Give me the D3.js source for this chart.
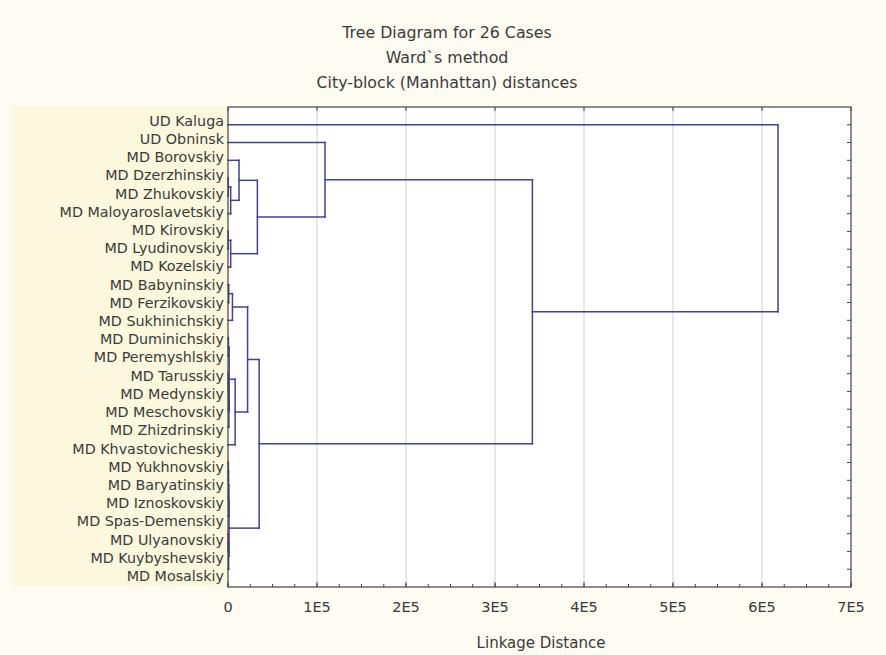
<!DOCTYPE html>
<html>
<head>
<meta charset="utf-8">
<script src="https://cdn.jsdelivr.net/npm/d3@7"></script>
<style>
html,body{margin:0;padding:0;background:#fdfbf2;}
svg{display:block;}
text{font-family:"DejaVu Sans",Verdana,sans-serif;fill:#3a3a3a;}
</style>
</head>
<body>
<svg id="chart" width="886" height="655"></svg>
<script>
// ---- data ----
const titleLines = ["Tree Diagram for 26 Cases", "Ward`s method", "City-block (Manhattan) distances"];
const xTitle = "Linkage Distance";
const cases = [
  "UD Kaluga","UD Obninsk","MD Borovskiy","MD Dzerzhinskiy","MD Zhukovskiy",
  "MD Maloyaroslavetskiy","MD Kirovskiy","MD Lyudinovskiy","MD Kozelskiy",
  "MD Babyninskiy","MD Ferzikovskiy","MD Sukhinichskiy","MD Duminichskiy",
  "MD Peremyshlskiy","MD Tarusskiy","MD Medynskiy","MD Meschovskiy",
  "MD Zhizdrinskiy","MD Khvastovicheskiy","MD Yukhnovskiy","MD Baryatinskiy",
  "MD Iznoskovskiy","MD Spas-Demenskiy","MD Ulyanovskiy","MD Kuybyshevskiy",
  "MD Mosalskiy"
];
// linkage: [childA, childB, height]; leaves 0..25, merge k gets index 26+k
const linkage = [
  [3, 4, 300],
  [26, 5, 3000],
  [2, 27, 12400],
  [6, 7, 300],
  [29, 8, 3000],
  [28, 30, 33000],
  [1, 31, 109000],
  [9, 10, 800],
  [33, 11, 5000],
  [12, 13, 500],
  [14, 15, 300],
  [36, 16, 700],
  [37, 17, 1000],
  [35, 38, 1300],
  [39, 18, 8000],
  [34, 40, 22000],
  [19, 20, 400],
  [42, 21, 600],
  [43, 22, 900],
  [23, 24, 300],
  [45, 25, 700],
  [44, 46, 1200],
  [41, 47, 35000],
  [32, 48, 342000],
  [0, 49, 618000]
];
const xTicks = [0, 100000, 200000, 300000, 400000, 500000, 600000, 700000];
const xTickLabels = ["0","1E5","2E5","3E5","4E5","5E5","6E5","7E5"];

// ---- layout ----
const svg = d3.select("#chart");
const L = 228, R = 851, T = 107, B = 587;

const x = d3.scaleLinear().domain([0, 700000]).range([L, R]);
const y = d3.scaleLinear().domain([0, cases.length + 1]).range([T, B]);
const yLabel = d3.scalePoint().domain(cases).range([120.7, 576]);

// label panel
svg.append("rect").attr("x", 12).attr("y", T).attr("width", L - 12).attr("height", B - T)
  .attr("fill", "#fbf8de");
// plot area
svg.append("rect").attr("x", L).attr("y", T).attr("width", R - L).attr("height", B - T)
  .attr("fill", "#ffffff");

// grid
svg.append("g").selectAll("line").data(xTicks.slice(1, -1)).join("line")
  .attr("x1", d => x(d)).attr("x2", d => x(d)).attr("y1", T).attr("y2", B)
  .attr("stroke", "#cfcfcf").attr("stroke-width", 1);

// title
svg.append("g").selectAll("text").data(titleLines).join("text")
  .attr("x", 447).attr("y", (d, i) => 38 + i * 25)
  .attr("text-anchor", "middle").attr("font-size", 15.8).text(d => d);

// case labels
svg.append("g").selectAll("text").data(cases).join("text")
  .attr("x", 224).attr("y", d => yLabel(d)).attr("dy", "0.35em")
  .attr("text-anchor", "end").attr("font-size", 14.3).text(d => d);

// compute node positions
const nodeY = cases.map((c, i) => y(i + 1));
const nodeH = cases.map(() => 0);
linkage.forEach(([a, b, h]) => {
  nodeY.push((nodeY[a] + nodeY[b]) / 2);
  nodeH.push(h);
});

const segs = [];
linkage.forEach(([a, b, h]) => {
  segs.push([x(h), nodeY[a], x(h), nodeY[b]]);
  segs.push([x(nodeH[a]), nodeY[a], x(h), nodeY[a]]);
  segs.push([x(nodeH[b]), nodeY[b], x(h), nodeY[b]]);
});
svg.append("g").selectAll("line").data(segs).join("line")
  .attr("x1", d => d[0]).attr("y1", d => d[1]).attr("x2", d => d[2]).attr("y2", d => d[3])
  .attr("stroke", "#3f4396").attr("stroke-width", 1.5).attr("stroke-linecap", "square");

// frame
svg.append("rect").attr("x", L).attr("y", T).attr("width", R - L).attr("height", B - T)
  .attr("fill", "none").attr("stroke", "#444").attr("stroke-width", 1.2);

// bottom axis
const minor = d3.range(0, 700001, 25000);
svg.append("g").selectAll("line").data(minor).join("line")
  .attr("x1", d => x(d)).attr("x2", d => x(d)).attr("y1", B).attr("y2", B - 3)
  .attr("stroke", "#444");
svg.append("g").selectAll("line").data(xTicks).join("line")
  .attr("x1", d => x(d)).attr("x2", d => x(d)).attr("y1", B).attr("y2", B - 5)
  .attr("stroke", "#444");
// top axis ticks
svg.append("g").selectAll("line").data(xTicks).join("line")
  .attr("x1", d => x(d)).attr("x2", d => x(d)).attr("y1", T).attr("y2", T + 4)
  .attr("stroke", "#444");
// right axis ticks
svg.append("g").selectAll("line").data(cases).join("line")
  .attr("x1", R).attr("x2", R - 4).attr("y1", (d, i) => y(i + 1)).attr("y2", (d, i) => y(i + 1))
  .attr("stroke", "#444");

svg.append("g").selectAll("text").data(xTicks).join("text")
  .attr("x", d => x(d)).attr("y", 612).attr("text-anchor", "middle")
  .attr("font-size", 14.5).text((d, i) => xTickLabels[i]);

svg.append("text").attr("x", 541).attr("y", 648).attr("text-anchor", "middle")
  .attr("font-size", 15).text(xTitle);
</script>
</body>
</html>
